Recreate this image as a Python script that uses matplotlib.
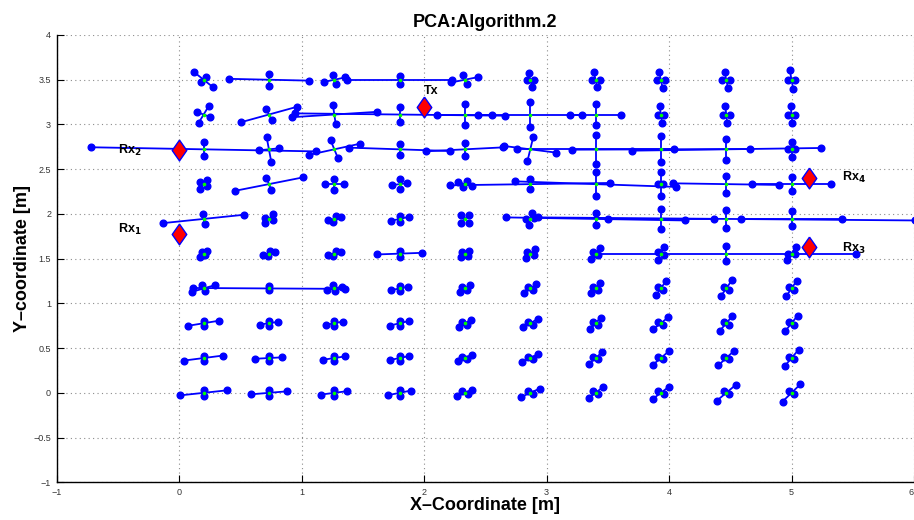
import matplotlib
matplotlib.use("Agg")
import matplotlib.pyplot as plt

plt.rcParams['font.family'] = ['Liberation Sans', 'DejaVu Sans']

# grid of measurement points
x_pos = [0.2, 0.733, 1.267, 1.8, 2.333, 2.867, 3.4, 3.933, 4.467, 5.0]
y_pos = [0.0, 0.389, 0.778, 1.167, 1.556, 1.944, 2.333, 2.722, 3.111, 3.5]

# principal axis half-vectors, one row per y_pos (bottom to top), one column per x_pos
major_dx = [
    [0.19, 0.149, 0.106, 0.094, 0.061, 0.077, 0.057, 0.068, 0.076, 0.073],
    [0.159, 0.11, 0.091, 0.079, 0.055, 0.065, 0.056, 0.067, 0.065, 0.057],
    [0.124, 0.075, 0.071, 0.079, 0.049, 0.059, 0.043, 0.061, 0.051, 0.05],
    [0.092, 0.622, 0.06, 0.07, 0.041, 0.049, 0.038, 0.039, 0.045, 0.043],
    [0.031, 0.051, 0.055, 0.182, 0.033, 0.038, 0.034, 0.027, 1.06, 0.033],
    [0.333, 0.03, 0.053, 0.073, 0.033, 0.011, 0.728, 0.432, 1.538, 0.413],
    [0.03, 0.281, 0.077, 0.06, 0.055, 0.654, 0.656, 0.0, 0.432, 0.326],
    [0.917, -0.019, 0.21, 0.413, 0.314, 0.213, 0.641, 0.725, 0.772, 0.0],
    [0.041, 0.228, 0.348, 0.858, 0.224, 0.424, 0.21, -0.01, -0.008, -0.007],
    [0.075, 0.328, 0.086, 0.43, 0.11, -0.014, -0.014, -0.014, -0.014, -0.014],
]
major_dy = [
    [0.028, 0.017, 0.019, 0.026, 0.037, 0.048, 0.061, 0.07, 0.087, 0.097],
    [0.028, 0.008, 0.019, 0.022, 0.037, 0.048, 0.067, 0.078, 0.082, 0.092],
    [0.028, 0.015, 0.019, 0.026, 0.037, 0.047, 0.064, 0.067, 0.082, 0.086],
    [0.037, -0.005, 0.019, 0.019, 0.037, 0.048, 0.056, 0.078, 0.089, 0.087],
    [0.032, 0.017, 0.017, 0.009, 0.034, 0.05, 0.061, 0.069, 0.0, 0.07],
    [0.047, 0.05, 0.017, 0.022, 0.04, 0.067, -0.017, 0.0, -0.017, 0.0],
    [0.05, 0.076, 0.0, 0.011, -0.025, 0.013, -0.031, 0.134, -0.009, 0.0],
    [-0.023, 0.138, 0.063, -0.019, 0.022, -0.037, 0.0, 0.004, 0.015, 0.084],
    [0.093, 0.086, 0.03, -0.013, 0.0, 0.0, 0.0, 0.093, 0.093, 0.093],
    [-0.082, -0.01, 0.025, 0.0, 0.03, 0.078, 0.082, 0.089, 0.09, 0.104],
]
minor_dx = [
    [0.0, 0.0, 0.0, 0.0, 0.022, 0.022, 0.022, 0.022, 0.022, 0.022],
    [0.0, 0.0, 0.0, 0.0, 0.02, 0.02, 0.02, 0.02, 0.02, 0.02],
    [0.0, 0.0, 0.0, 0.0, 0.02, 0.02, 0.02, 0.02, 0.02, 0.02],
    [-0.011, 0.0, -0.008, 0.0, 0.02, 0.02, 0.02, 0.02, 0.02, 0.02],
    [0.012, 0.01, 0.01, 0.0, 0.025, 0.027, 0.02, 0.024, 0.0, 0.03],
    [-0.008, 0.03, 0.01, 0.0, 0.033, 0.033, 0.0, 0.0, 0.0, 0.0],
    [0.03, -0.02, 0.0, 0.0, 0.015, 0.0, 0.0, 0.02, 0.0, 0.0],
    [0.0, 0.083, -0.03, 0.0, 0.0, 0.024, 0.0, 0.0, 0.0, 0.025],
    [0.051, -0.024, -0.011, 0.0, 0.0, 0.0, 0.0, 0.025, 0.028, 0.025],
    [0.02, 0.0, -0.014, 0.0, -0.014, 0.03, 0.033, 0.033, 0.033, 0.03],
]
minor_dy = [
    [0.03, 0.03, 0.03, 0.03, -0.015, -0.015, -0.015, -0.015, -0.015, -0.015],
    [0.028, 0.028, 0.028, 0.028, -0.015, -0.015, -0.015, -0.015, -0.015, -0.015],
    [0.03, 0.03, 0.03, 0.03, -0.015, -0.015, -0.015, -0.015, -0.015, -0.015],
    [0.034, 0.022, 0.034, 0.03, -0.015, -0.015, -0.015, -0.015, -0.015, -0.015],
    [-0.015, 0.025, 0.025, 0.034, -0.022, -0.015, -0.013, -0.015, 0.08, 0.0],
    [0.058, -0.01, 0.03, 0.03, -0.04, 0.006, 0.065, 0.11, 0.1, 0.084],
    [-0.025, 0.07, 0.061, 0.052, 0.03, 0.06, 0.13, 0.0, 0.095, 0.08],
    [0.08, 0.011, 0.1, 0.06, 0.076, 0.136, 0.164, 0.145, 0.117, 0.0],
    [-0.026, 0.064, 0.103, 0.086, 0.115, 0.142, 0.12, 0.0, 0.0, 0.0],
    [0.025, 0.066, 0.05, 0.045, 0.052, 0.0, 0.0, 0.0, 0.0, 0.0],
]

# anchors
rx_x = [0.0, 0.0, 5.14, 5.14]
rx_y = [1.78, 2.72, 1.63, 2.40]
rx_labels = [r'Rx$_\mathbf{1}$', r'Rx$_\mathbf{2}$', r'Rx$_\mathbf{3}$', r'Rx$_\mathbf{4}$']
rx_label_x = [-0.5, -0.5, 5.41, 5.41]
rx_label_y = [1.785, 2.67, 1.58, 2.37]
tx_x, tx_y = 2.0, 3.2

fig = plt.figure(figsize=(9.14, 5.2), dpi=100)
ax = fig.add_axes([0.062, 0.0725, 0.938, 0.8602])

for i, yc in enumerate(y_pos):
    for j, xc in enumerate(x_pos):
        for dx, dy in [(major_dx[i][j], major_dy[i][j]), (minor_dx[i][j], minor_dy[i][j])]:
            ax.plot([xc - dx, xc + dx], [yc - dy, yc + dy], '-o', color='b',
                    lw=1.3, ms=4.8, mfc='b', mec='b', zorder=2)
        ax.plot(xc, yc, 'o', color=(0, 1, 0), ms=2.6, mec='none', zorder=3)

diamond = [(0, 1), (0.7, 0), (0, -1), (-0.7, 0), (0, 1)]
ax.plot(rx_x, rx_y, linestyle='none', marker=diamond, ms=15,
        mfc='r', mec='b', mew=1, zorder=4)
ax.plot(tx_x, tx_y, linestyle='none', marker=diamond, ms=15,
        mfc='r', mec='b', mew=1, zorder=4)

for lx, ly, lab in zip(rx_label_x, rx_label_y, rx_labels):
    ax.text(lx, ly, lab, fontsize=9, fontweight='bold', va='baseline', ha='left')
ax.text(2.0, 3.34, 'Tx', fontsize=9, fontweight='bold', va='baseline', ha='left')

ax.set_xlim(-1, 6)
ax.set_ylim(-1, 4)
ax.set_xticks(range(-1, 7))
ax.set_yticks([-1, -0.5, 0, 0.5, 1, 1.5, 2, 2.5, 3, 3.5, 4])
ax.set_yticklabels(['\u22121', '\u22120.5', '0', '0.5', '1', '1.5', '2', '2.5', '3', '3.5', '4'])
ax.set_xticklabels(['\u22121', '0', '1', '2', '3', '4', '5', '6'])
ax.tick_params(direction='in', length=5, width=0.8, labelsize=6.5,
               labelcolor='#333333', pad=4)
# keep the last x tick label inside the figure edge
ax.get_xticklabels()[-1].set_horizontalalignment('right')
ax.grid(True, linestyle=(0, (1, 3)), color='0.55', lw=0.8)
ax.set_axisbelow(True)
for side in ['top', 'right']:
    ax.spines[side].set_visible(False)
for side in ['left', 'bottom']:
    ax.spines[side].set_linewidth(1.0)

fig.text(485 / 914, 1 - 26.7 / 520, 'PCA:Algorithm.2', fontsize=13,
         fontweight='bold', ha='center', va='baseline')
fig.text(485 / 914, 1 - 505 / 520, 'X\u2013Coordinate [m]', fontsize=13,
         fontweight='bold', ha='center', va='center')
fig.text(22.5 / 914, 1 - 258 / 520, 'Y\u2013coordinate [m]', fontsize=13,
         fontweight='bold', ha='center', va='center', rotation=90)

fig.savefig('out.png', dpi=100)
